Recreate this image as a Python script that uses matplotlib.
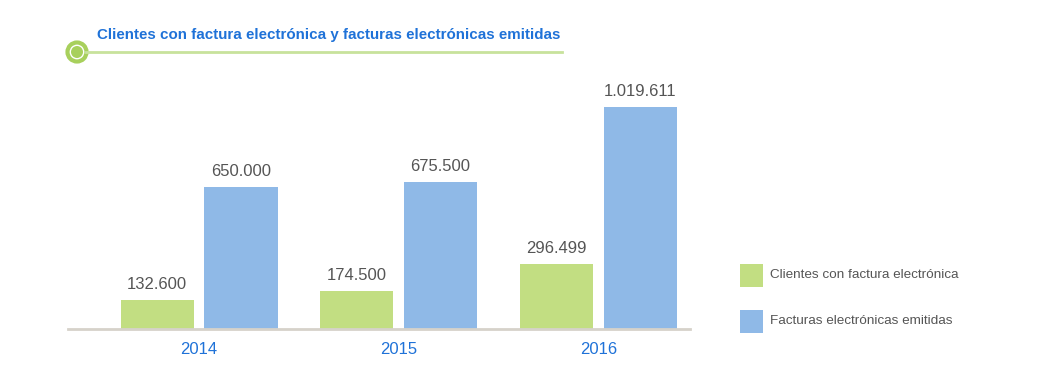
import matplotlib
matplotlib.use("Agg")
from matplotlib import pyplot as plt
from matplotlib.patches import Circle, Rectangle
from matplotlib.lines import Line2D
import numpy as np

years = ["2014", "2015", "2016"]
clientes = [132600, 174500, 296499]
facturas = [650000, 675500, 1019611]
clientes_labels = ["132.600", "174.500", "296.499"]
facturas_labels = ["650.000", "675.500", "1.019.611"]
series_names = ["Clientes con factura electrónica", "Facturas electrónicas emitidas"]
title = "Clientes con factura electrónica y facturas electrónicas emitidas"

green = "#c2de82"
blue = "#8fb9e7"
text_gray = "#555555"
title_blue = "#1f72d8"

plt.rcParams['font.family'] = ['Liberation Sans', 'DejaVu Sans']

W, H = 1040, 383
fig = plt.figure(figsize=(W / 100, H / 100), dpi=100)

# axes placed in pixel terms
left, right, base, top = 68, 690, 329, 60
ax = fig.add_axes([left / W, (H - base) / H, (right - left) / W, (base - top) / H])

x = np.arange(len(years))
off = 0.21
width = 0.366
b1 = ax.bar(x - off, clientes, width, color=green, label=series_names[0])
b2 = ax.bar(x + off, facturas, width, color=blue, label=series_names[1])

ymax = (base - top) / 222 * max(facturas)
ax.set_ylim(0, ymax)
ax.set_xlim(-0.657, 2.46)

for bars, labels in ((b1, clientes_labels), (b2, facturas_labels)):
    for rect, lab in zip(bars, labels):
        ax.annotate(lab, (rect.get_x() + rect.get_width() / 2, rect.get_height()),
                    xytext=(0, 6), textcoords="offset points", ha="center", va="bottom",
                    fontsize=12, color=text_gray)

for s in ["top", "right", "left"]:
    ax.spines[s].set_visible(False)
ax.spines["bottom"].set_color("#d6d2ca")
ax.spines["bottom"].set_linewidth(2)
ax.set_yticks([])
ax.set_xticks(x)
ax.set_xticklabels(years, fontsize=12, color=title_blue)
ax.tick_params(axis="x", length=0, pad=9)

# title with green rule and circle marker
px = lambda xx, yy: (xx / W, 1 - yy / H)
fig.text(*px(97, 35), title, fontsize=10.9, fontweight="bold", color=title_blue,
         ha="left", va="center")
fig.add_artist(Line2D([86 / W, 562 / W], [1 - 52 / H] * 2, color="#c8e29c", linewidth=2,
                      transform=fig.transFigure))
fig.add_artist(Circle((77, H - 52), 9.5, transform=None, facecolor="white",
                      edgecolor="#a8d05c", linewidth=3))
fig.add_artist(Circle((77, H - 52), 6, transform=None, facecolor="#a8d05c",
                      edgecolor="none"))

# legend drawn in pixel positions
for i, (name, col) in enumerate(zip(series_names, [green, blue])):
    y0 = 264 + i * 46
    fig.add_artist(Rectangle((740, H - y0 - 23), 23, 23, transform=None,
                             facecolor=col, edgecolor="none"))
    fig.text(*px(770, y0 + 11.5), name, fontsize=9.7, color=text_gray,
             ha="left", va="center")

fig.savefig("out.png", dpi=100)
